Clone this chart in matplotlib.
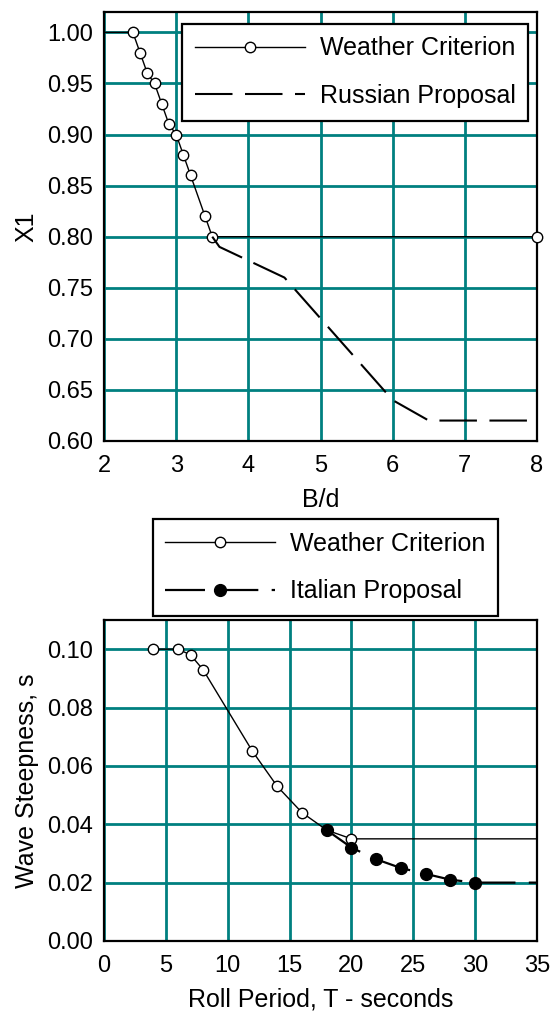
import numpy as np
import matplotlib
matplotlib.use('Agg')
import matplotlib.pyplot as plt

plt.rcParams['font.family'] = ['Liberation Sans', 'DejaVu Sans']

# top chart: X1 factor vs B/d
bd_weather = [2.0, 2.4, 2.5, 2.6, 2.7, 2.8, 2.9, 3.0, 3.1, 3.2, 3.4, 3.5, 8.0]
x1_weather = [1.00, 1.00, 0.98, 0.96, 0.95, 0.93, 0.91, 0.90, 0.88, 0.86, 0.82, 0.80, 0.80]
bd_russian = [3.5, 3.6, 4.5, 6.0, 6.5, 8.0]
x1_russian = [0.80, 0.79, 0.76, 0.64, 0.62, 0.62]

# bottom chart: wave steepness vs roll period
t_weather = [4, 6, 7, 8, 12, 14, 16, 18, 20, 35]
s_weather = [0.100, 0.100, 0.098, 0.093, 0.065, 0.053, 0.044, 0.038, 0.035, 0.035]
t_italian = [18, 20, 22, 24, 26, 28, 30, 35]
s_italian = [0.038, 0.032, 0.028, 0.025, 0.023, 0.021, 0.020, 0.020]

FS_TICK = 17
FS = 18
GRID = '#008080'

fig = plt.figure(figsize=(5.55, 10.14), dpi=100)
ax1 = fig.add_axes([0.1874, 0.5651, 0.7802, 0.4231])
ax2 = fig.add_axes([0.1874, 0.0720, 0.7802, 0.3166])


def style(ax):
    ax.grid(True, color=GRID, lw=2.0)
    ax.set_axisbelow(True)
    for sp in ax.spines.values():
        sp.set_linewidth(1.6)
        sp.set_color('black')
    ax.tick_params(length=0, labelsize=FS_TICK)
    ax.tick_params(axis='x', pad=10)
    ax.tick_params(axis='y', pad=8)


def legend(ax, **kw):
    leg = ax.legend(fontsize=FS, handlelength=4.4, handletextpad=0.6,
                    labelspacing=0.95, numpoints=1, fancybox=False,
                    framealpha=1, borderpad=0.5, borderaxespad=0, **kw)
    leg.get_frame().set_edgecolor('black')
    leg.get_frame().set_linewidth(1.6)
    return leg


ax1.plot(bd_weather, x1_weather, '-', color='black', lw=1.0,
         marker='o', mfc='white', mec='black', ms=7.5, mew=1.0,
         markevery=list(range(1, len(bd_weather))), label='Weather Criterion',
         clip_on=False, zorder=3)
ax1.plot(bd_russian, x1_russian, color='black', lw=1.5, dashes=(18, 6),
         label='Russian Proposal', zorder=3)
ax1.set_xlim(2, 8)
ax1.set_ylim(0.60, 1.02)
ax1.set_xticks(np.arange(2, 9, 1))
ax1.set_yticks(np.arange(0.60, 1.001, 0.05))
ax1.set_yticklabels(['%.2f' % v for v in np.arange(0.60, 1.001, 0.05)])
ax1.set_xlabel('B/d', fontsize=FS, labelpad=8)
ax1.set_ylabel('X1', fontsize=FS, labelpad=6)
style(ax1)
legend(ax1, loc='upper right', bbox_to_anchor=(0.979, 0.972))

ax2.plot(t_weather, s_weather, '-', color='black', lw=1.0,
         marker='o', mfc='white', mec='black', ms=7.5, mew=1.0,
         markevery=list(range(0, len(t_weather) - 1)), label='Weather Criterion',
         zorder=3)
ax2.plot(t_italian, s_italian, color='black', lw=1.6, dashes=(18, 6),
         marker='o', mfc='black', mec='black', ms=8.5,
         markevery=list(range(0, len(t_italian) - 1)), label='Italian Proposal',
         zorder=4)
ax2.set_xlim(0, 35)
ax2.set_ylim(0, 0.11)
ax2.set_xticks(np.arange(0, 36, 5))
ax2.set_yticks(np.arange(0, 0.101, 0.02))
ax2.set_yticklabels(['%.2f' % v for v in np.arange(0, 0.101, 0.02)])
ax2.set_xlabel('Roll Period, T - seconds', fontsize=FS, labelpad=8)
ax2.set_ylabel('Wave Steepness, s', fontsize=FS, labelpad=6)
style(ax2)
legend(ax2, loc='lower center', bbox_to_anchor=(0.5115, 1.0125))

fig.savefig('out.png', dpi=100)
